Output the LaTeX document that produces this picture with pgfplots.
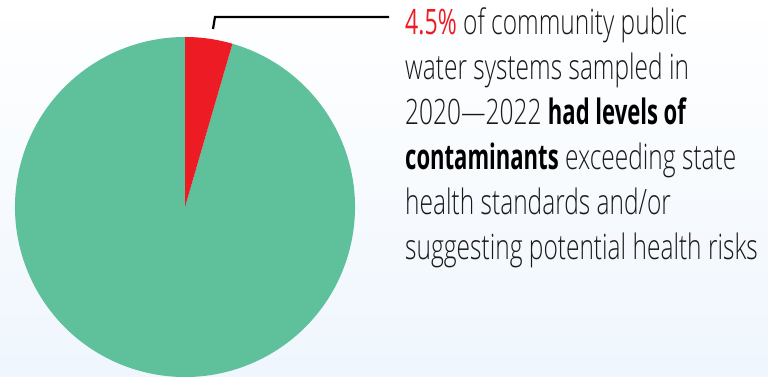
\documentclass[border=0pt]{standalone}
\usepackage{pgfplots}
\pgfplotsset{compat=1.18}
\usepackage{pgfplotstable}
\usepackage{fontspec}
\setmainfont{Open Sans Light}[FakeStretch=0.70, BoldFont={Open Sans Bold}, BoldFeatures={FakeStretch=0.63}]
\newfontfamily\regfont{Open Sans}[FakeStretch=0.66]
\definecolor{pieRed}{RGB}{237,28,36}
\definecolor{pieGreen}{RGB}{95,192,156}
\definecolor{bgBot}{RGB}{239,246,253}
\definecolor{txt}{RGB}{25,25,25}
\pgfplotstableread{
part value
exceeding 4.5
other 95.5
}\piedata
\begin{document}
\begin{tikzpicture}
\pgfplotstablegetelem{0}{value}\of\piedata \let\vA\pgfplotsretval
\pgfplotstablegetelem{1}{value}\of\piedata \let\vB\pgfplotsretval
\pgfmathsetmacro\aA{90-3.6*\vA}
\pgfmathsetmacro\aB{\aA-3.6*\vB}
\begin{axis}[at={(0,0)},anchor=south west, scale only axis, width=768pt, height=377pt,
  xmin=0,xmax=768,ymin=0,ymax=377, hide axis, clip=true]
\fill[top color=white,bottom color=bgBot] (axis cs:0,0) rectangle (axis cs:768,377);
\fill[pieGreen] (axis cs:185,170) -- ++(\aA:170pt) arc[start angle=\aA, end angle=\aB, radius=170pt] -- cycle;
\fill[pieRed] (axis cs:185,170) -- ++(90:170pt) arc[start angle=90, end angle=\aA, radius=170pt] -- cycle;
\draw[black, line width=2.2pt] (axis cs:213,348) -- (axis cs:215,360) -- (axis cs:389,360);
\begin{scope}[every node/.style={anchor=base west, inner sep=0pt, text=txt, font=\fontsize{35}{45}\selectfont}]
\node at (axis cs:405,342) {{\regfont\color{pieRed}4.5\%} of community public};
\node at (axis cs:405,297) {water systems sampled in};
\node at (axis cs:405,252) {2020---2022 \textbf{\color{black}had levels of}};
\node at (axis cs:405,207) {\textbf{\color{black}contaminants} exceeding state};
\node at (axis cs:405,162) {health standards and/or};
\node at (axis cs:405,117) {suggesting potential health risks};
\end{scope}
\end{axis}
\end{tikzpicture}
\end{document}
